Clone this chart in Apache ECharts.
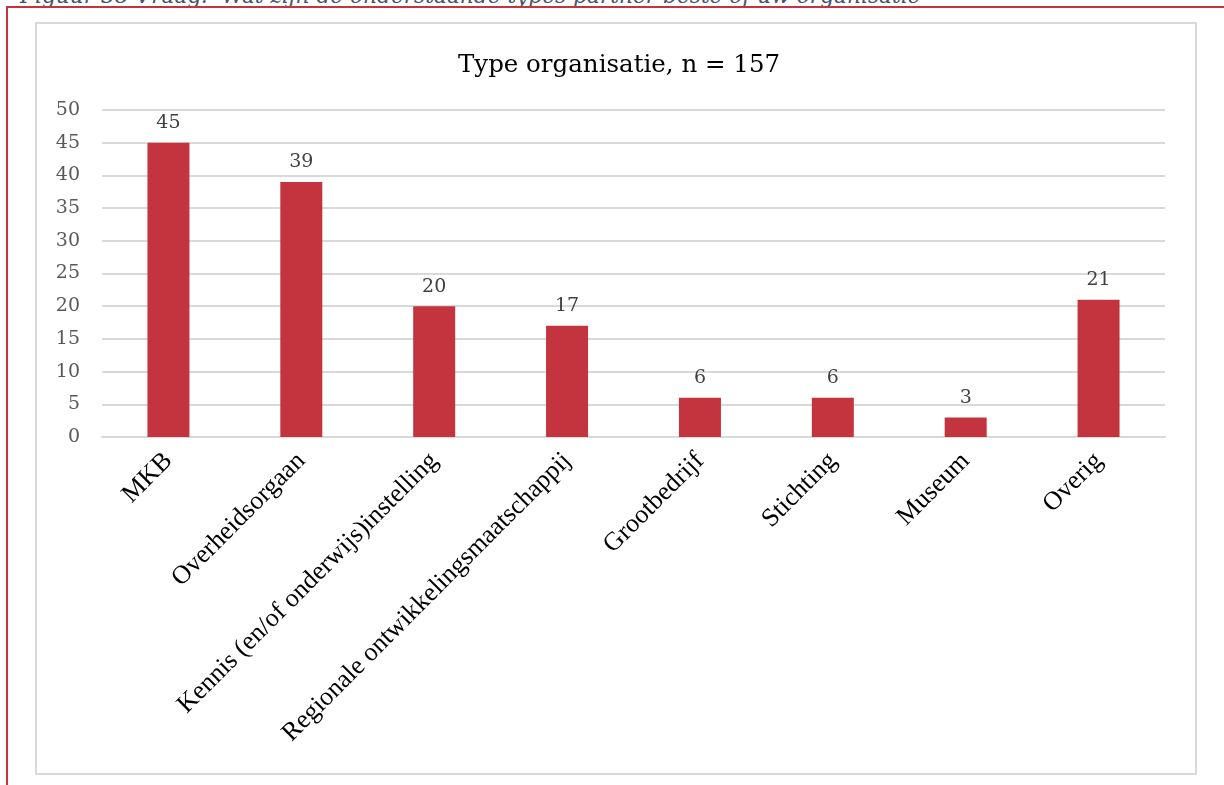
<!DOCTYPE html>
<html>
<head>
<meta charset="utf-8">
<script src="https://cdn.jsdelivr.net/npm/echarts@6/dist/echarts.min.js"></script>
<style>
	html, body { margin: 0; padding: 0; background: #fff; }
	#page { position: relative; width: 1224px; height: 785px; overflow: hidden; }
	#caption {
		position: absolute; left: 20px; top: -15px; white-space: nowrap;
		font-family: 'DejaVu Serif', serif; font-style: italic; font-size: 21.7px;
		line-height: 22px; color: #44546a;
	}
	#frame {
		position: absolute; left: 6px; top: 6px; width: 1216px; height: 800px;
		border-top: 2px solid #c3343f; border-left: 2px solid #c3343f;
	}
	#box {
		position: absolute; left: 35px; top: 22px; width: 1158px; height: 749px;
		border: 2px solid #d9d9d9;
	}
	#chart { position: absolute; left: 0; top: 0; width: 1224px; height: 785px; }
</style>
</head>
<body>
<div id="page">
	<div id="caption">Figuur 38 Vraag: 'Wat zijn de onderstaande types partner beste of uw organisatie'</div>
	<div id="frame"></div>
	<div id="box"></div>
	<div id="chart"></div>
</div>
<script>
const categories = [
	'MKB',
	'Overheidsorgaan',
	'Kennis (en/of onderwijs)instelling',
	'Regionale ontwikkelingsmaatschappij',
	'Grootbedrijf',
	'Stichting',
	'Museum',
	'Overig',
];
const counts = [45, 39, 20, 17, 6, 6, 3, 21];
const titleText = 'Type organisatie, n = 157';

let myChart = echarts.init(document.getElementById('chart'), null, { renderer: 'canvas' });

let option = {
	animation: false,
	backgroundColor: 'transparent',
	title: {
		text: titleText,
		left: 614,
		top: 48,
		textAlign: 'center',
		textStyle: {
			fontFamily: 'DejaVu Serif',
			fontWeight: 'normal',
			fontSize: 24.5,
			color: '#000',
		},
	},
	grid: { left: 102, right: 59, top: 110, bottom: 348, containLabel: false },
	xAxis: {
		type: 'category',
		data: categories,
		axisLine: { lineStyle: { color: '#d9d9d9', width: 2 } },
		axisTick: { show: false },
		axisLabel: {
			interval: 0,
			rotate: 45,
			margin: 20,
			fontFamily: 'Liberation Serif',
			fontSize: 26,
			color: '#000',
		},
	},
	yAxis: {
		type: 'value',
		min: 0,
		max: 50,
		interval: 5,
		axisLine: { show: false },
		axisTick: { show: false },
		splitLine: { lineStyle: { color: '#d9d9d9', width: 2 } },
		axisLabel: {
			margin: 22,
			fontFamily: 'DejaVu Serif',
			fontSize: 19,
			color: '#595959',
		},
	},
	series: [
		{
			type: 'bar',
			data: counts,
			barWidth: 42,
			itemStyle: { color: '#c3343f' },
			label: {
				show: true,
				position: 'top',
				distance: 10,
				fontFamily: 'DejaVu Serif',
				fontSize: 19,
				color: '#404040',
			},
		},
	],
};

myChart.setOption(option, true);
</script>
</body>
</html>
